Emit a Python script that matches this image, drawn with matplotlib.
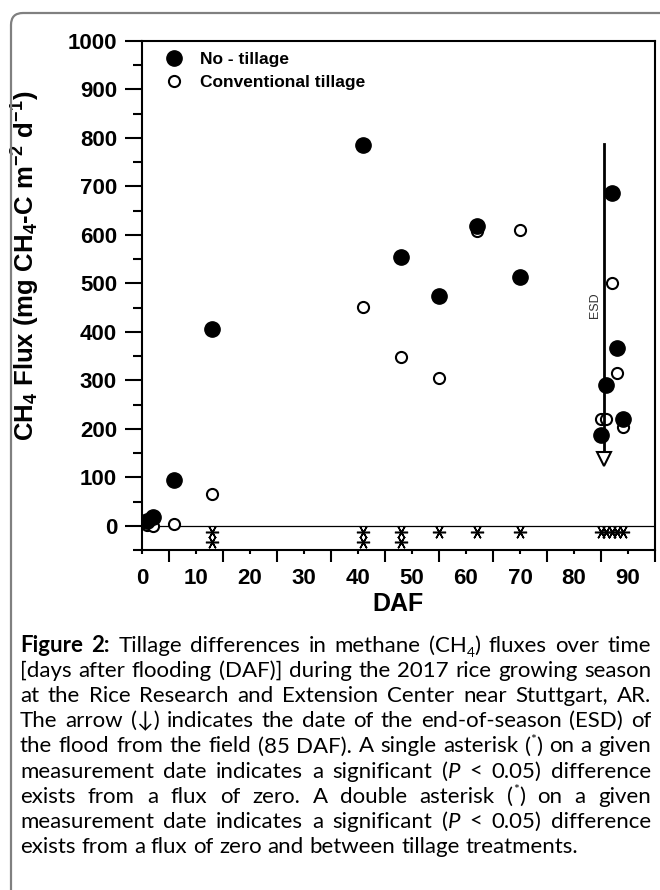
import matplotlib
matplotlib.use('Agg')
import matplotlib.pyplot as plt
from matplotlib.lines import Line2D
from matplotlib.patches import FancyBboxPatch
from matplotlib.transforms import IdentityTransform
from matplotlib.ticker import MultipleLocator, FixedLocator

# ---------------- data ----------------
nt_daf = [1, 2, 6, 13, 41, 48, 55, 62, 70, 85, 86, 87, 88, 89]
nt_flux = [10, 18, 95, 405, 785, 555, 473, 618, 513, 187, 291, 686, 366, 220]
ct_daf = [1, 2, 6, 13, 41, 48, 55, 62, 70, 85, 86, 87, 88, 89]
ct_flux = [2, 0, 3, 65, 452, 349, 304, 609, 611, 220, 220, 501, 316, 203]
ast_daf = [13, 13, 41, 41, 48, 48, 55, 62, 70, 85, 86, 87, 88, 89]
ast_flux = [-12, -33, -12, -33, -12, -33, -12, -12, -12, -12, -12, -12, -12, -12]
esd_day = 85.5
esd_top = 787
esd_tip = 137
series_labels = ["No - tillage", "Conventional tillage"]
x_ticks = [0, 10, 20, 30, 40, 50, 60, 70, 80, 90]
x_minor = [5, 15, 25, 35, 45, 55, 65, 75, 85, 95]

caption_lines = [
    "b:Figure 2:|n: Tillage differences in methane (CH|sub:4|n:) fluxes over time",
    "n:[days after flooding (DAF)] during the 2017 rice growing season",
    "n:at the Rice Research and Extension Center near Stuttgart, AR.",
    "n:The arrow (\u2193) indicates the date of the end-of-season (ESD) of",
    "n:the flood from the field (85 DAF). A single asterisk (|sup:*|n:) on a given",
    "n:measurement date indicates a significant (|i:P|n: < 0.05) difference",
    "n:exists from a flux of zero. A double asterisk (|sup:*|n:) on a given",
    "n:measurement date indicates a significant (|i:P|n: < 0.05) difference",
    "n:exists from a flux of zero and between tillage treatments.",
]

# ---------------- style ----------------
plt.rcParams['font.family'] = ['Liberation Sans', 'DejaVu Sans']
plt.rcParams['mathtext.fontset'] = 'custom'
plt.rcParams['mathtext.rm'] = 'Liberation Sans'
plt.rcParams['mathtext.bf'] = 'Liberation Sans:bold'
plt.rcParams['mathtext.it'] = 'Liberation Sans:italic'
plt.rcParams['mathtext.default'] = 'bf'

W, H = 660, 890
fig = plt.figure(figsize=(W / 100, H / 100), dpi=100)
fig.patch.set_facecolor('white')

# outer rounded frame
frame = FancyBboxPatch((11, -60), 760, 890 - 13 + 60,
                       boxstyle="round,pad=0,rounding_size=12",
                       transform=IdentityTransform(), fill=False,
                       edgecolor='#808080', linewidth=1.6, clip_on=False)
fig.patches.append(frame)

ax = fig.add_axes([142 / W, 1 - 550 / H, (655 - 142) / W, (550 - 41) / H])
ax.set_xlim(0, 95)
ax.set_ylim(-50, 1000)

ax.axhline(0, color='black', lw=0.9, zorder=1)
ax.plot(ast_daf, ast_flux, ls='none', marker=(6, 2, 90), ms=9.5,
        mec='black', mew=1.1, zorder=2)
ax.plot(ct_daf, ct_flux, ls='none', marker='o', ms=8, mfc='white',
        mec='black', mew=1.5, zorder=3)
ax.plot([esd_day, esd_day], [esd_top, esd_tip + 14], color='black', lw=2, zorder=4)
ax.plot([esd_day], [esd_tip], ls='none', marker='v', ms=10, mfc='white',
        mec='black', mew=1.5, zorder=4)
ax.plot(nt_daf, nt_flux, ls='none', marker='o', ms=11, color='black', zorder=5)
ax.text(esd_day - 1.6, 454, 'ESD', rotation=90, ha='center', va='center',
        fontsize=9, color='#333333')

for s in ax.spines.values():
    s.set_linewidth(1.5)

ax.xaxis.set_major_locator(FixedLocator(x_ticks))
ax.xaxis.set_minor_locator(FixedLocator(x_minor))
ax.yaxis.set_major_locator(MultipleLocator(100))
ax.yaxis.set_minor_locator(MultipleLocator(50))
ax.set_yticks(range(0, 1001, 100))
ax.tick_params(axis='x', which='major', direction='out', length=3, width=1.5,
               labelsize=16, pad=10)
ax.tick_params(axis='x', which='minor', direction='out', length=8.6, width=1.5)
ax.tick_params(axis='y', which='major', direction='out', length=12, width=1.5,
               labelsize=16, pad=6)
ax.tick_params(axis='y', which='minor', direction='out', length=6.5, width=1.5)
for lab in ax.get_xticklabels() + ax.get_yticklabels():
    lab.set_fontweight('bold')

ax.set_xlabel('DAF', fontsize=18, fontweight='bold', labelpad=2)
ax.set_ylabel(r'CH$_4$ Flux (mg CH$_4$-C m$^{-2}$ d$^{-1}$)', fontsize=18.5,
              fontweight='bold')
ax.yaxis.set_label_coords(-0.195, 0.558)

handles = [Line2D([], [], ls='none', marker='o', ms=11, color='black'),
           Line2D([], [], ls='none', marker='o', ms=8, mfc='white', mec='black', mew=1.5)]
ax.legend(handles, series_labels, loc='upper left', bbox_to_anchor=(0.046, 0.978),
          frameon=False, prop=dict(weight='bold', size=12.5), handlelength=1,
          handletextpad=1.0, labelspacing=0.45, borderaxespad=0, borderpad=0)

# ---------------- caption ----------------
cap_font = ['Lato', 'DejaVu Sans']
renderer = fig.canvas.get_renderer()


def parse(line):
    chars = []
    for part in line.split('|'):
        st, txt = part.split(':', 1)
        for c in txt:
            chars.append((c, st))
    words, cur = [], []
    for c, st in chars:
        if c == ' ':
            if cur:
                words.append(cur)
            cur = []
        else:
            if cur and cur[-1][1] == st:
                cur[-1] = (cur[-1][0] + c, st)
            else:
                cur.append((c, st))
    if cur:
        words.append(cur)
    return words


def props(st, size):
    kw = dict(family=cap_font, fontsize=size, color='black')
    if st == 'b':
        kw['fontweight'] = 'bold'
    if st == 'i':
        kw['fontstyle'] = 'italic'
    if st in ('sub', 'sup'):
        kw['fontsize'] = size * 0.62
    return kw


def seg_width(txt, st, size):
    t = fig.text(0, 0, txt, **props(st, size))
    w = t.get_window_extent(renderer).width
    t.remove()
    return w


def word_width(word, size):
    return sum(seg_width(t, s, size) for t, s in word)


def space_width(size):
    return seg_width('a a', 'n', size) - seg_width('aa', 'n', size)


parsed = [parse(l) for l in caption_lines]
x0, x1 = 20, 651
ref = 10.0
sp_ref = space_width(ref)
max_nat = max(sum(word_width(w, ref) for w in ws) + sp_ref * (len(ws) - 1)
              for ws in parsed[:-1])
size = ref * 622 / max_nat
sp = space_width(size)
base0, step = 652, 25.1

for i, words in enumerate(parsed):
    widths = [word_width(w, size) for w in words]
    if i < len(parsed) - 1:
        gap = (x1 - x0 - sum(widths)) / (len(words) - 1)
    else:
        gap = sp
    x = x0
    yb = base0 + i * step
    for w, ww in zip(words, widths):
        xx = x
        for txt, st in w:
            dy = 0
            px = size * 100 / 72
            if st == 'sub':
                dy = -0.22 * px
            elif st == 'sup':
                dy = 0.38 * px
            fig.text(xx / W, 1 - (yb - dy) / H, txt, ha='left', va='baseline',
                     **props(st, size))
            xx += seg_width(txt, st, size)
        x += ww + gap

fig.savefig('out.png', dpi=100, facecolor='white')
